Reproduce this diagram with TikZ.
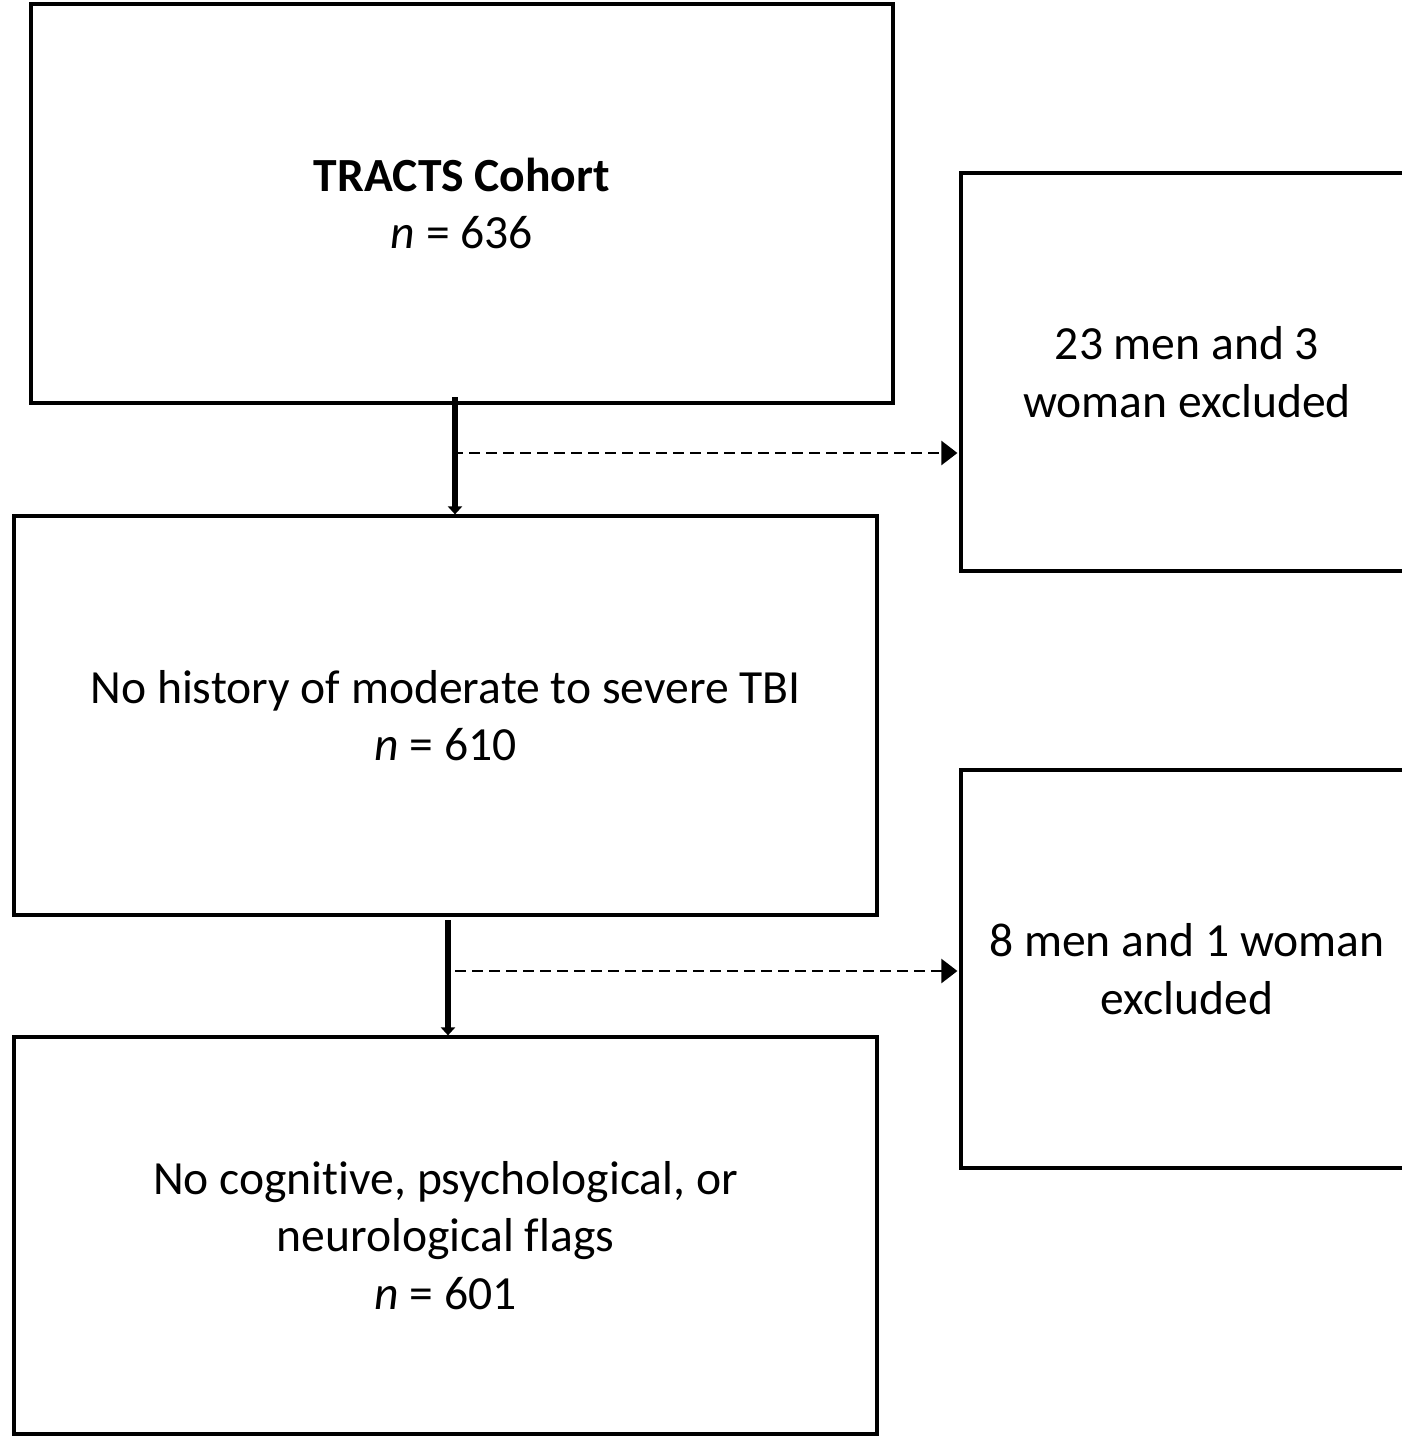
\documentclass[tikz,border=0pt]{standalone}
\usepackage{fontspec}
\setmainfont[Ligatures={NoCommon}]{Carlito}
\usetikzlibrary{arrows.meta}
\begin{document}
\begin{tikzpicture}[x=0.5pt,y=-0.5pt,
  box/.style={draw=black,line width=1.6pt,rectangle,inner sep=0pt,align=center,
    font=\fontsize{23.8}{28.8}\selectfont},
  mainline/.style={line width=2.6pt,-{Triangle[width=7pt,length=4pt]}},
  sideline/.style={line width=1.2pt,dash pattern=on 5.5pt off 3pt,-{Triangle[width=12pt,length=8pt]}}]
\clip (0,0) rectangle (1402,1440);
\node[box,minimum width=431pt,minimum height=199.5pt] (b1) at (462,203.5) {\textbf{TRACTS Cohort}\\\textit{n} = 636};
\node[box,minimum width=226pt,minimum height=199pt] (r1) at (1187,372) {23 men and 3\\woman excluded};
\node[box,minimum width=431.5pt,minimum height=199.5pt] (b2) at (445.5,715.5) {No history of moderate to severe TBI\\\textit{n} = 610};
\node[box,minimum width=226pt,minimum height=199pt] (r2) at (1187,969) {8 men and 1 woman\\excluded};
\node[box,minimum width=431.5pt,minimum height=198.5pt] (b3) at (445.5,1235.5) {No cognitive, psychological, or\\neurological flags\\\textit{n} = 601};
\coordinate (a1) at (455,397);
\coordinate (a2) at (448,920);
\coordinate (d1) at (452,453);
\coordinate (d2) at (455,971);
\draw[mainline] (a1) -- (a1 |- b2.north);
\draw[mainline] (a2) -- (a2 |- b3.north);
\draw[sideline] (d1) -- ([xshift=-1pt]d1 -| r1.west);
\draw[sideline] (d2) -- ([xshift=-1pt]d2 -| r2.west);
\end{tikzpicture}
\end{document}
